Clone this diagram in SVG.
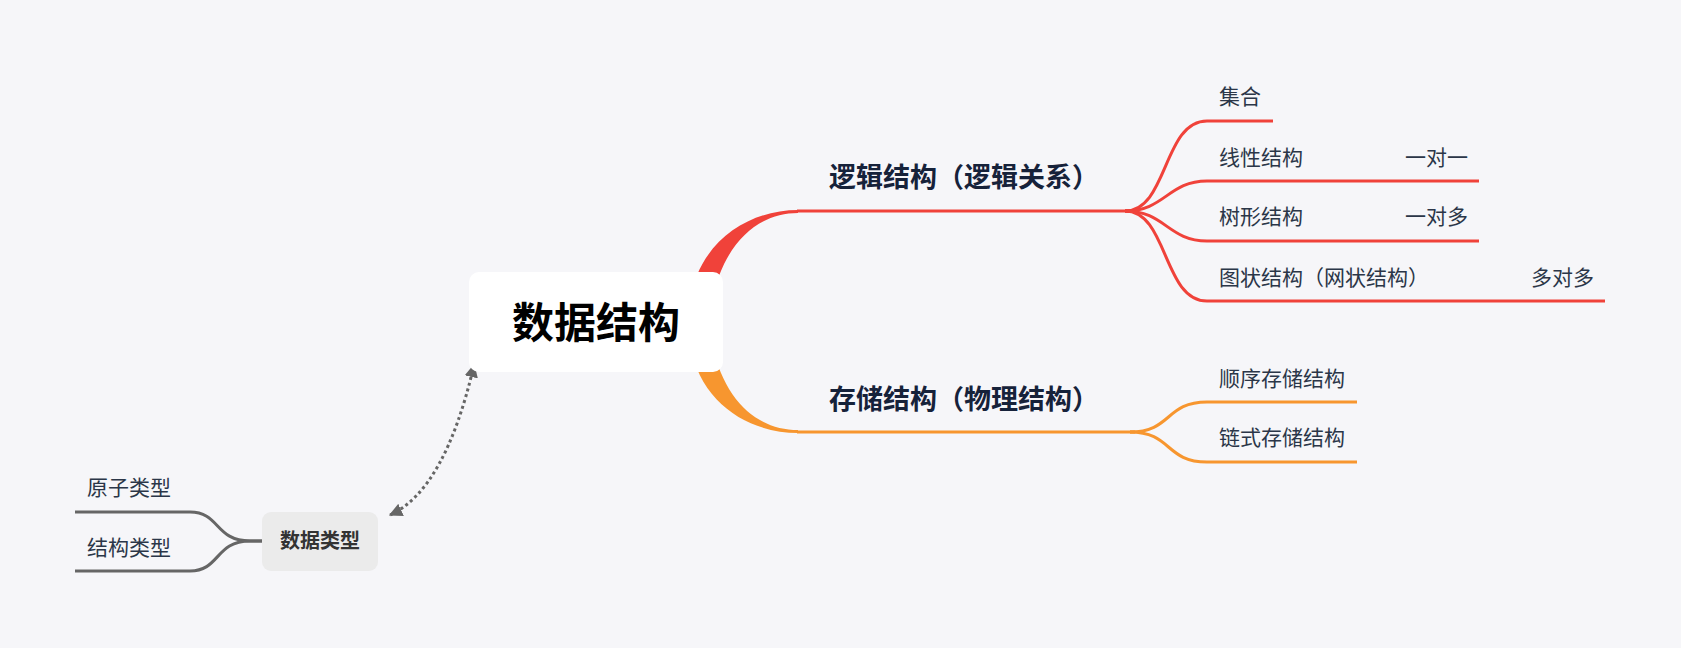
<svg xmlns="http://www.w3.org/2000/svg" width="1681" height="648" viewBox="0 0 1681 648">
  <defs>
    <style>
      .t { font-family: "Noto Sans CJK SC", "Noto Sans", sans-serif; }
      .leaf { font-size: 21px; fill: #2b3648; }
      .main { font-size: 27px; font-weight: bold; fill: #16223a; }
      .red { stroke: #f0423a; stroke-width: 3; fill: none; }
      .org { stroke: #f7962f; stroke-width: 3; fill: none; }
      .gry { stroke: #666666; stroke-width: 3; fill: none; }
    </style>
    <marker id="arr" viewBox="0 0 10 10" refX="9" refY="5" markerWidth="4.5" markerHeight="4.5" orient="auto-start-reverse" markerUnits="strokeWidth">
      <path d="M0,0 L10,5 L0,10 Z" fill="#666666"/>
    </marker>
  </defs>
  <rect width="1681" height="648" fill="#f6f6f9"/>

  <g id="connectors">
    <!-- tapered main branches -->
    <path d="M690,300 C700,240 750,210 798,210 L798,213 C760,213 725,240 712,300 Z" fill="#f0423a"/>
    <path d="M690,344 C700,404 750,433 798,433 L798,430 C760,430 725,404 712,344 Z" fill="#f7962f"/>
    <!-- red -->
    <path class="red" d="M797,211 L1130,211"/>
    <path class="red" d="M1125,211 C1168,211 1163,121 1207,121 L1273,121"/>
    <path class="red" d="M1125,211 C1165,211 1168,181 1207,181 L1479,181"/>
    <path class="red" d="M1125,211 C1165,211 1168,241 1207,241 L1479,241"/>
    <path class="red" d="M1125,211 C1168,211 1163,301 1207,301 L1605,301"/>
    <!-- orange -->
    <path class="org" d="M797,432 L1135,432"/>
    <path class="org" d="M1130,432 C1172,432 1165,402 1207,402 L1357,402"/>
    <path class="org" d="M1130,432 C1172,432 1165,462 1207,462 L1357,462"/>
    <!-- grey -->
    <path class="gry" d="M262,541 L250,541 C215,541 220,512 190,512 L75,512"/>
    <path class="gry" d="M262,541 L250,541 C215,541 220,571 190,571 L75,571"/>
    <!-- dotted relation -->
    <path d="M474,365 Q445,490 390,515" fill="none" stroke="#666666" stroke-width="3" stroke-dasharray="3 3" marker-start="url(#arr)" marker-end="url(#arr)"/>
  </g>

  <g id="root">
    <rect x="469" y="272" width="254" height="100" rx="10" fill="#ffffff"/>
    <text class="t" x="596" y="338" text-anchor="middle" font-size="42" font-weight="bold" fill="#000000">数据结构</text>
  </g>

  <g id="logic">
    <text class="t main" x="829" y="187">逻辑结构（逻辑关系）</text>
  </g>
  <g id="storage">
    <text class="t main" x="829" y="409">存储结构（物理结构）</text>
  </g>

  <g id="set"><text class="t leaf" x="1219" y="104">集合</text></g>
  <g id="linear">
    <text class="t leaf" x="1219" y="165">线性结构</text>
    <text class="t leaf" x="1405" y="165">一对一</text>
  </g>
  <g id="tree">
    <text class="t leaf" x="1219" y="224">树形结构</text>
    <text class="t leaf" x="1405" y="224">一对多</text>
  </g>
  <g id="graph">
    <text class="t leaf" x="1219" y="285">图状结构（网状结构）</text>
    <text class="t leaf" x="1531" y="285">多对多</text>
  </g>
  <g id="seq"><text class="t leaf" x="1219" y="386">顺序存储结构</text></g>
  <g id="linked"><text class="t leaf" x="1219" y="445">链式存储结构</text></g>

  <g id="datatype">
    <rect x="262" y="512" width="116" height="59" rx="9" fill="#ebebeb"/>
    <text class="t" x="320" y="548" text-anchor="middle" font-size="20" font-weight="bold" fill="#333333">数据类型</text>
  </g>
  <g id="atomic"><text class="t leaf" x="87" y="495">原子类型</text></g>
  <g id="struct"><text class="t leaf" x="87" y="555">结构类型</text></g>
</svg>
